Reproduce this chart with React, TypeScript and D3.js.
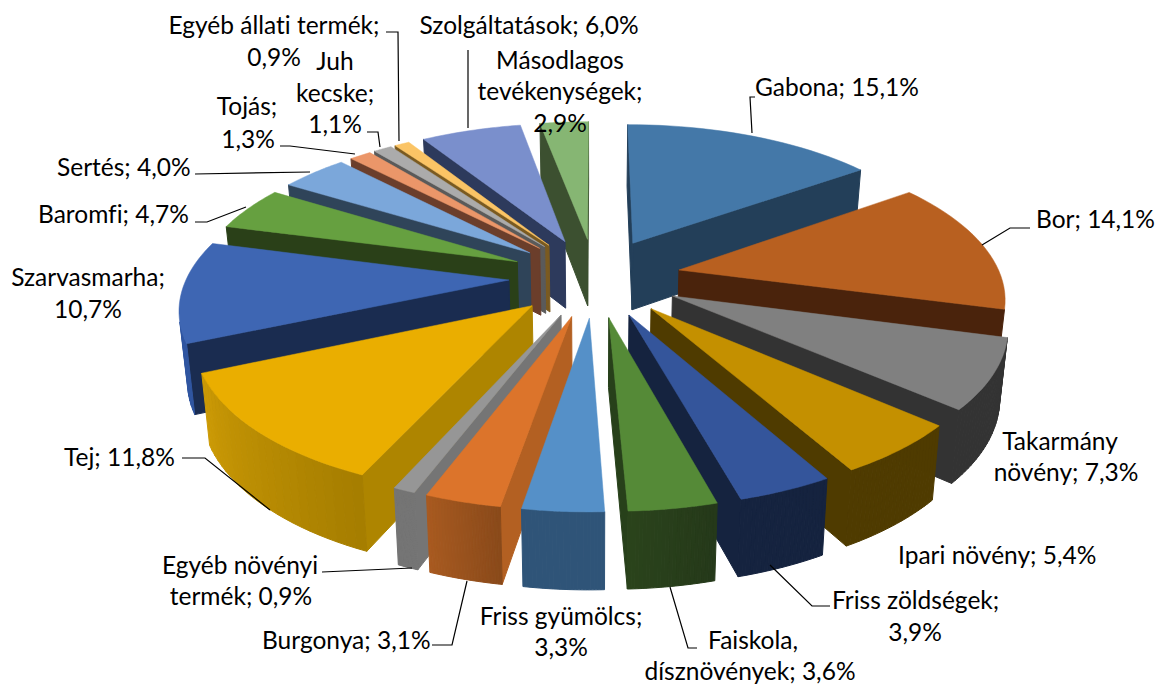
import React from "react";
import * as d3 from "d3";

const categories = ["Gabona","Bor","Takarmány növény","Ipari növény","Friss zöldségek","Faiskola, dísznövények","Friss gyümölcs","Burgonya","Egyéb növényi termék","Tej","Szarvasmarha","Baromfi","Sertés","Tojás","Juh kecske","Egyéb állati termék","Szolgáltatások","Másodlagos tevékenységek"];
const shares = [15.1,14.1,7.3,5.4,3.9,3.6,3.3,3.1,0.9,11.8,10.7,4.7,4.0,1.3,1.1,0.9,6.0,2.9];
const topColors = ["#4478A8","#B86020","#808080","#C49000","#34559B","#558A37","#5590C8","#DC742B","#969696","#EAAE00","#3E66B3","#66A040","#7BA7DA","#EB9669","#ABABAB","#FBC465","#7A8FCC","#86B673"];
const cutColors = ["#233F59","#4A230C","#333333","#4F3B00","#15233F","#27401A","#2F5478","#B36022","#757575","#AE8500","#1A2C50","#2A4018","#2F4459","#6B3E2B","#5A5A5A","#7A5A20","#2D3A5C","#3C5030"];
const rimFrom = ["#233F59","#4A230C","#333333","#4F3B00","#15233F","#2A431B","#2F5478","#A85A20","#757575","#CC9A05","#2F55A0","#2A4018","#2F4459","#6B3E2B","#5A5A5A","#7A5A20","#2D3A5C","#3C5030"];
const rimTo = ["#233F59","#4A230C","#333333","#4F3B00","#15233F","#25391A","#2F5478","#8A4A1A","#757575","#A67E00","#2F55A0","#2A4018","#2F4459","#6B3E2B","#5A5A5A","#7A5A20","#2D3A5C","#3C5030"];

const labelLines: [string, number, number, string][] = [
  ["Gabona; 15,1%",755,96,"start"],["Bor; 14,1%",1036,228,"start"],
  ["Takarmány",1060,450,"middle"],["növény; 7,3%",1066,481,"middle"],
  ["Ipari növény; 5,4%",898,564,"start"],
  ["Friss zöldségek;",832,609,"start"],["3,9%",915,641,"middle"],
  ["Faiskola,",753,649,"middle"],["dísznövények; 3,6%",750,680,"middle"],
  ["Friss gyümölcs;",561,625,"middle"],["3,3%",561,656,"middle"],
  ["Burgonya; 3,1%",262,649,"start"],
  ["Egyéb növényi",240,574,"middle"],["termék; 0,9%",241,605,"middle"],
  ["Tej; 11,8%",64,466,"start"],
  ["Szarvasmarha;",88,286,"middle"],["10,7%",88,318,"middle"],
  ["Baromfi; 4,7%",38,223,"start"],["Sertés; 4,0%",57,176,"start"],
  ["Tojás;",247,115,"middle"],["1,3%",248,148,"middle"],
  ["Juh",335,70,"middle"],["kecske;",335,102,"middle"],["1,1%",335,133,"middle"],
  ["Egyéb állati termék;",274,34,"middle"],["0,9%",274,66,"middle"],
  ["Szolgáltatások; 6,0%",529,34,"middle"],
  ["Másodlagos",560,69,"middle"],["tevékenységek;",560,100,"middle"],["2,9%",560,132,"middle"],
];
const leaders: [number, number][][] = [
  [[755,97],[750,97],[752,133]],
  [[1030,228],[1010,228],[982,245]],
  [[182,458],[205,458],[270,510]],
  [[322,572],[412,568]],
  [[432,645],[452,645],[467,581]],
  [[697,648],[688,648],[670,587]],
  [[830,606],[812,606],[770,565]],
  [[195,222],[207,222],[246,207]],
  [[195,174],[310,172]],
  [[280,146],[290,146],[355,154]],
  [[367,132],[378,132],[380,147]],
  [[386,32],[398,32],[399,141]],
  [[468,50],[468,128]],
];

const cx = 595, horizon = -640, A = 917, depth = 2000, R = 322, EXPLODE = 86, SHRINK = 0.98;
type P = [number, number];
const project = (X: number, Y: number) => {
  const s = depth / (depth + Y);
  return { x: cx + X * s, y: horizon + A * s, s };
};
const lift = (p: { x: number; y: number; s: number }): P => [cx + (p.x - cx) * SHRINK, p.y + 29 + 39 * p.s];
const line = d3.line<P>();
const area = (q: P[]) => d3.polygonArea(q);

export default function App() {
  const arcs = d3.pie<number>().sort(null).value((d) => d)(shares);
  const faces = arcs.map((a, i) => {
    const mid = (a.startAngle + a.endAngle) / 2;
    const ex = EXPLODE * Math.sin(mid), ey = EXPLODE * Math.cos(mid);
    const pt = (t: number, r: number) => project(ex + r * Math.sin(t), ey + r * Math.cos(t));
    const angs = d3.range(0, 25).map((k) => a.startAngle + ((a.endAngle - a.startAngle) * k) / 24);
    const apex = pt(0, 0);
    const rim = angs.map((t) => pt(t, R));
    const topPoly: P[] = [[apex.x, apex.y], ...rim.map((p) => [p.x, p.y] as P)];
    const walls: { d: string; fill: string; key: string; order: number }[] = [];
    const addWall = (u: any, v: any, fill: string, key: string, order: number) => {
      const q: P[] = [[u.x, u.y], [v.x, v.y], lift(v), lift(u)];
      if (area(q) > 0) walls.push({ d: line(q) + "Z", fill, key, order });
    };
    addWall(apex, rim[0], cutColors[i], "s", -apex.y - rim[0].y);
    addWall(rim[24], apex, cutColors[i], "e", -apex.y - rim[24].y);
    const shade = d3.scaleLinear<string>().domain([0, 23]).range([rimTo[i], rimFrom[i]]);
    d3.range(0, 24).forEach((k) => {
      addWall(rim[k], rim[k + 1], shade(k), "r" + k, -rim[k].y - rim[k + 1].y);
    });
    walls.sort((p, q) => q.order - p.order);
    return { i, depthKey: Math.cos(mid), walls, top: line(topPoly) + "Z" };
  });
  const ordered = [...faces].sort((p, q) => q.depthKey - p.depthKey);
  return (
    <svg width={1155} height={684} style={{ position: "absolute", left: 0, top: 0, display: "block" }}>
      <rect width={1155} height={684} fill="#fff" />
      {ordered.map((f) => (
        <g key={categories[f.i]}>
          {f.walls.map((w) => (
            <path key={w.key} d={w.d} fill={w.fill} stroke={w.fill} strokeWidth={1} />
          ))}
          <path d={f.top} fill={topColors[f.i]} stroke={topColors[f.i]} strokeWidth={0.5} />
        </g>
      ))}
      {leaders.map((l, i) => (
        <path key={i} d={line(l as P[]) as string} fill="none" stroke="#000" strokeWidth={1.2} />
      ))}
      <g fontFamily="Lato, Carlito, sans-serif" fontSize={24.5} fill="#000" style={{ fontVariantLigatures: "none" }}>
        {labelLines.map(([t, x, y, anchor]) => (
          <text key={t + x} x={x} y={y} textAnchor={anchor as any}>{t}</text>
        ))}
      </g>
    </svg>
  );
}
